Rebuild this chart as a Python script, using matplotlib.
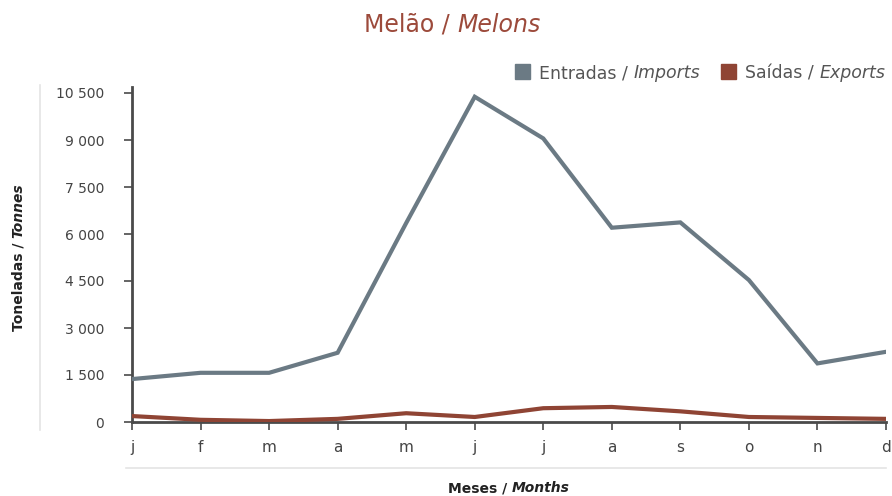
import matplotlib
matplotlib.use("Agg")
import matplotlib.pyplot as plt
from matplotlib.lines import Line2D
from matplotlib.patches import Rectangle
from matplotlib.ticker import FuncFormatter

plt.rcParams['font.family'] = ['DejaVu Sans']

months = ['j', 'f', 'm', 'a', 'm', 'j', 'j', 'a', 's', 'o', 'n', 'd']
imports = [1370, 1570, 1570, 2210, 6350, 10380, 9050, 6200, 6370, 4530, 1870, 2240]
exports = [190, 70, 30, 100, 280, 160, 440, 480, 340, 160, 130, 100]
yticks = [0, 1500, 3000, 4500, 6000, 7500, 9000, 10500]

c_imp = "#6b7a84"
c_exp = "#8f4434"
c_title = "#9c4a3b"
c_text = "#444444"
c_axis = "#4a4a4a"

W, H = 892, 496
fig = plt.figure(figsize=(W / 100, H / 100), dpi=100)
ax = fig.add_axes([132 / W, 1 - 422 / H, (886 - 132) / W, (422 - 87) / H])

x = list(range(len(months)))
ax.plot(x, imports, color=c_imp, lw=3.0, solid_joinstyle='miter', zorder=3)
ax.plot(x, exports, color=c_exp, lw=3.0, solid_joinstyle='miter', zorder=3)

ax.set_xlim(0, len(months) - 1)
ax.set_ylim(0, 10500 * (422 - 87) / (422 - 93))
ax.set_yticks(yticks)
ax.yaxis.set_major_formatter(FuncFormatter(lambda v, p: f"{int(v):,}".replace(",", " ")))
ax.set_xticks(x)
ax.set_xticklabels(months)

for s in ['top', 'right']:
    ax.spines[s].set_visible(False)
for s in ['left', 'bottom']:
    ax.spines[s].set_color(c_axis)
    ax.spines[s].set_linewidth(2)
ax.tick_params(axis='both', colors=c_axis, labelcolor=c_text, labelsize=10,
               length=6, width=1.2, direction='out')
ax.tick_params(axis='x', labelsize=11, pad=7)
ax.tick_params(axis='y', pad=14)

fig.canvas.draw()
renderer = fig.canvas.get_renderer()

def mixed_h(xc, yb, parts, **kw):
    texts = []
    for s, st in parts:
        t = fig.text(0, 0, s, style=st, transform=None, ha='left', va='baseline', **kw)
        texts.append(t)
    widths = [t.get_window_extent(renderer).width for t in texts]
    tot = sum(widths)
    xs = xc - tot / 2
    for t, w in zip(texts, widths):
        t.set_position((xs, yb))
        xs += w
    return texts

def mixed_left(x0, yb, parts, **kw):
    texts = []
    for s, st in parts:
        t = fig.text(0, 0, s, style=st, transform=None, ha='left', va='baseline', **kw)
        texts.append(t)
    xs = x0
    for t in texts:
        w = t.get_window_extent(renderer).width
        t.set_position((xs, yb))
        xs += w
    return xs

def mixed_v(xc, yc, parts, **kw):
    texts = []
    for s, st in parts:
        t = fig.text(0, 0, s, style=st, transform=None, ha='left', va='center',
                     rotation=0, **kw)
        texts.append(t)
    hs = [t.get_window_extent(renderer).width for t in texts]
    tot = sum(hs)
    ys = yc - tot / 2
    for t, h in zip(texts, hs):
        t.set_rotation(90)
        t.set_rotation_mode('anchor')
        t.set_position((xc, ys))
        ys += h
    return texts

# title
mixed_h(452, H - 32, [("Melão / ", 'normal'), ("Melons", 'italic')],
        fontsize=17, color=c_title)

# axis labels (pixel coords, origin bottom-left)
mixed_h(509, H - 492, [("Meses / ", 'normal'), ("Months", 'italic')],
        fontsize=10, fontweight='bold', color='#222222')
mixed_v(18, H - 257, [("Toneladas / ", 'normal'), ("Tonnes", 'italic')],
        fontsize=10, fontweight='bold', color='#222222')

# legend
fig.patches.append(Rectangle((515, H - 79), 15, 15, transform=None, color=c_imp, figure=fig))
mixed_left(539, H - 78, [("Entradas / ", 'normal'), ("Imports", 'italic')],
           fontsize=12.5, color='#555555')
fig.patches.append(Rectangle((721, H - 79), 15, 15, transform=None, color=c_exp, figure=fig))
mixed_left(745, H - 78, [("Saídas / ", 'normal'), ("Exports", 'italic')],
           fontsize=12.5, color='#555555')

# light separator lines
fig.lines.append(Line2D([40, 40], [H - 85, H - 430], transform=None, color='#e4e4e4', lw=1.2))
fig.lines.append(Line2D([126, 886], [H - 468, H - 468], transform=None, color='#e4e4e4', lw=1.2))

fig.savefig("out.png", dpi=100)
